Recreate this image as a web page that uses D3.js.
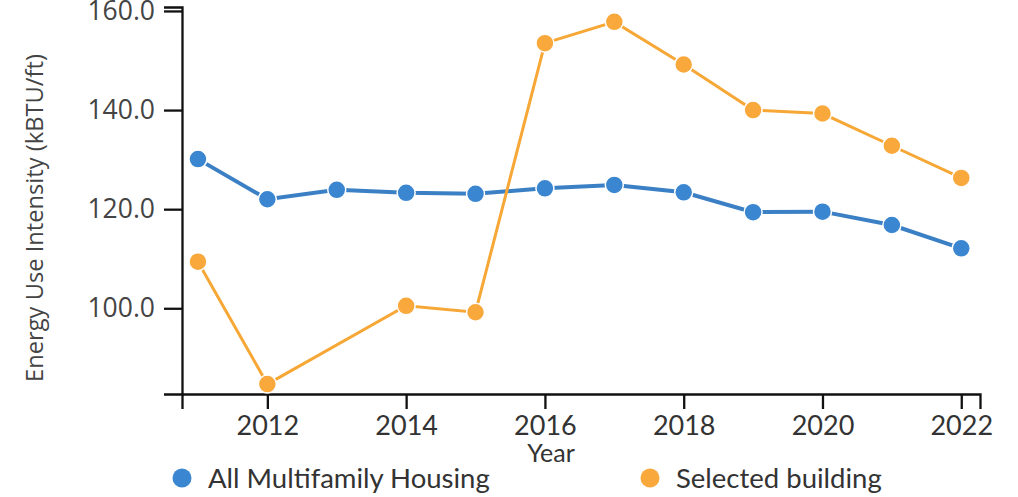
<!DOCTYPE html>
<html>
<head>
<meta charset="utf-8">
<script src="https://cdn.jsdelivr.net/npm/d3@7"></script>
<style>
  html, body { margin: 0; padding: 0; background: #fff; }
  svg { display: block; }
</style>
</head>
<body>
<svg id="chart" width="1018" height="497"></svg>
<script>
const years = [2011, 2012, 2013, 2014, 2015, 2016, 2017, 2018, 2019, 2020, 2021, 2022];
const allMultifamily = [130.1, 122.0, 123.9, 123.3, 123.1, 124.2, 124.9, 123.4, 119.4, 119.5, 116.8, 112.1];
const selectedBuilding = [109.4, 84.7, null, 100.5, 99.2, 153.5, 157.8, 149.2, 140.0, 139.3, 132.8, 126.3];
const xTickValues = [2012, 2014, 2016, 2018, 2020, 2022];
const yTickValues = [100, 120, 140, 160];
const seriesNames = ["All Multifamily Housing", "Selected building"];
const seriesColors = ["#3a86d0", "#f9a83c"];
const lineColors = ["#3b80c4", "#f6a735"];

const svg = d3.select("#chart");

const allVals = allMultifamily.concat(selectedBuilding).filter(v => v != null);
const x = d3.scaleLinear()
  .domain([d3.min(years) - 0.23, d3.max(years) + 0.27])
  .range([182, 980]);
const y = d3.scaleLinear()
  .domain([d3.min(allVals) - 2, d3.max(allVals) + 3])
  .range([394, 7]);

// axes
const yAxis = svg.append("g")
  .attr("transform", `translate(${x.range()[0]},0)`)
  .call(d3.axisLeft(y).tickValues(yTickValues).tickFormat(d3.format(".1f"))
    .tickSize(18).tickPadding(9));
yAxis.selectAll("text")
  .attr("font-family", "'Open Sans', sans-serif")
  .attr("font-size", 26.5)
  .attr("fill", "#444");

const xAxis = svg.append("g")
  .attr("transform", `translate(0,${y.range()[0]})`)
  .call(d3.axisBottom(x).tickValues(xTickValues).tickFormat(d3.format("d"))
    .tickSize(15).tickPadding(7));
xAxis.selectAll("text")
  .attr("font-family", "Lato, sans-serif")
  .attr("font-size", 27)
  .attr("fill", "#333");

svg.selectAll(".domain, .tick line")
  .attr("stroke", "#111")
  .attr("stroke-width", 2.3);

// axis titles
svg.append("text")
  .attr("transform", "translate(43,218) rotate(-90)")
  .attr("text-anchor", "middle")
  .attr("font-family", "'Open Sans', sans-serif")
  .attr("font-size", 23.7)
  .attr("fill", "#444")
  .text("Energy Use Intensity (kBTU/ft)");

svg.append("text")
  .attr("x", 551)
  .attr("y", 462)
  .attr("text-anchor", "middle")
  .attr("font-family", "Lato, sans-serif")
  .attr("font-size", 25)
  .attr("fill", "#333")
  .text("Year");

// series
const seriesData = [allMultifamily, selectedBuilding];
seriesData.forEach((vals, i) => {
  const pts = years.map((yr, j) => ({ yr, v: vals[j] })).filter(d => d.v != null);
  const line = d3.line().x(d => x(d.yr)).y(d => y(d.v));
  svg.append("path")
    .datum(pts)
    .attr("fill", "none")
    .attr("stroke", lineColors[i])
    .attr("stroke-width", i === 0 ? 4 : 3)
    .attr("d", line);
  svg.append("g").selectAll("circle")
    .data(pts)
    .join("circle")
    .attr("cx", d => x(d.yr))
    .attr("cy", d => y(d.v))
    .attr("r", 9)
    .attr("fill", seriesColors[i])
    .attr("stroke", "#fff")
    .attr("stroke-width", 1.5);
});

// legend
const legendX = [182, 650];
seriesNames.forEach((name, i) => {
  const g = svg.append("g").attr("transform", `translate(${legendX[i]},478)`);
  g.append("circle").attr("r", 9.5).attr("fill", seriesColors[i]);
  g.append("text")
    .attr("x", 26)
    .attr("y", 10)
    .attr("font-family", "Lato, sans-serif")
    .attr("font-size", 27.5)
    .attr("fill", "#333")
    .text(name);
});
</script>
</body>
</html>
